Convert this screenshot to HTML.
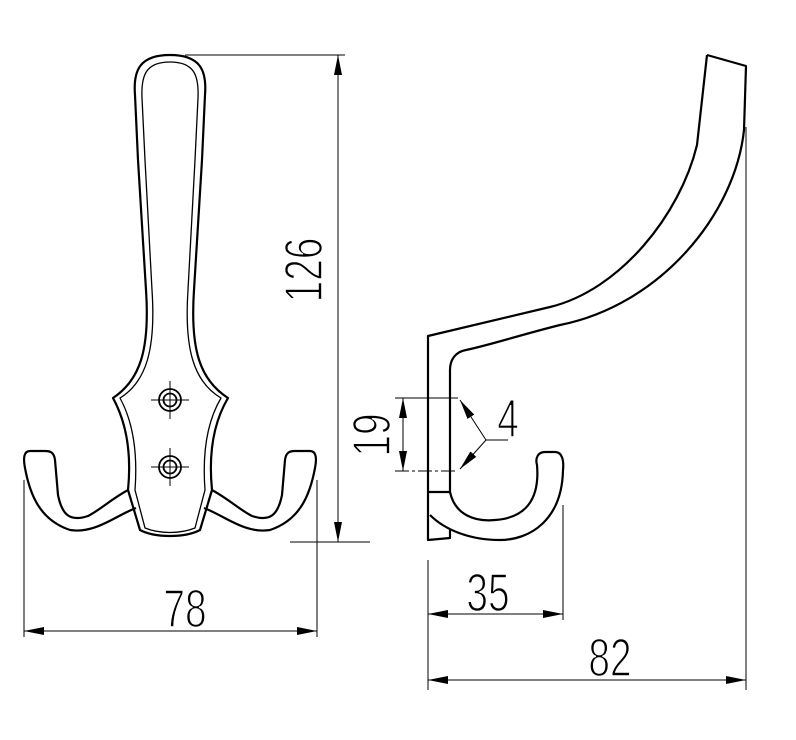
<!DOCTYPE html>
<html><head><meta charset="utf-8"><style>html,body{margin:0;padding:0;background:#fff}svg{display:block}</style></head><body>
<svg width="796" height="740" viewBox="0 0 796 740" xmlns="http://www.w3.org/2000/svg">
<defs>
<marker id="a" viewBox="0 0 20 8" refX="20" refY="4" markerWidth="20" markerHeight="8" markerUnits="userSpaceOnUse" orient="auto-start-reverse"><path d="M0,0 L20,4 L0,8 Z" fill="#000"/></marker>
</defs>
<g fill="none" stroke="#000" stroke-width="2.2" stroke-linejoin="round">
<path d="M170,55 C140,55 133,70 135,95 L138,160 L146,290 C150,350 140,380 113,398 C125,420 132,450 128,490 L140,530 C155,538 185,538 200,530 L212,490 C208,450 215,420 228,398 C200,380 190,350 194,290 L202,160 L205,95 C207,70 200,55 170,55 Z"/>
<path d="M170,62 C146,62 141,75 142,98 L145,160 L152,290 C156,350 146,382 120,398 C132,420 138,450 135,490 L145,528 C160,534 180,534 195,528 L205,490 C202,450 208,420 221,398 C194,382 184,350 188,290 L195,160 L198,98 C199,75 194,62 170,62 Z" stroke-width="1.3"/>
<path d="M128,490 C110,500 100,510 88,516 C70,522 62,515 58,495 L55,460 C54,452 50,451 45,451 L30,451 C24,451 23,458 25,468 C30,495 40,520 70,530 C95,534 115,516 136,508"/>
<path d="M212,490 C230,500 240,510 252,516 C270,522 278,515 282,495 L285,460 C286,452 290,451 295,451 L310,451 C316,451 317,458 315,468 C310,495 300,520 270,530 C245,534 225,516 204,508"/>
</g>
<g fill="none" stroke="#000">
<circle cx="170" cy="400" r="11" stroke-width="1.8"/><circle cx="170" cy="400" r="6.5" stroke-width="1.8"/>
<circle cx="170" cy="467" r="11" stroke-width="1.8"/><circle cx="170" cy="467" r="6.5" stroke-width="1.8"/>
<path d="M151,400 H189 M170,381 V419 M151,467 H189 M170,448 V486" stroke-width="1"/>
</g>
<g fill="none" stroke="#000" stroke-width="2.2" stroke-linejoin="round">
<path d="M707,55 L746,66 L744,130 C735,215 660,305 560,325 C520,335 490,345 466,350 C455,352 450,360 450,370 L450,492 C455,515 475,522 495,520 C525,518 540,500 537,465 C535,458 538,452 545,452 L555,452 C562,452 564,460 563,470 C562,520 530,540 500,540 C470,540 445,530 430,515"/>
<path d="M707,55 L697,145 C680,215 620,290 550,307 L428,336 L428,540 L450,538 L450,530"/>
<path d="M428,492 H450"/>
</g>
<g fill="none" stroke="#000" stroke-width="1">
<path d="M185,55 H345 M290,542 H370 M24,480 V637 M317,480 V637 M428,560 V690 M563,505 V620 M746,127 V690 M395,398 H458"/>
<path d="M395,471 H458" stroke-dasharray="14,3,3,3"/>
<path d="M338,55 V542" marker-start="url(#a)" marker-end="url(#a)"/>
<path d="M24,631 H317" marker-start="url(#a)" marker-end="url(#a)"/>
<path d="M428,614 H563" marker-start="url(#a)" marker-end="url(#a)"/>
<path d="M428,680 H746" marker-start="url(#a)" marker-end="url(#a)"/>
<path d="M403,398 V471" marker-start="url(#a)" marker-end="url(#a)"/>
<path d="M508,440 H486 L460,400" marker-end="url(#a)"/>
<path d="M486,440 L460,469" marker-end="url(#a)"/>
</g>
<g font-family="Liberation Sans, sans-serif" font-size="54" fill="#000" stroke="#fff" stroke-width="1.6">
<text transform="translate(322,270) rotate(-90) scale(0.72,1)" text-anchor="middle">126</text>
<text transform="translate(390,435) rotate(-90) scale(0.72,1)" text-anchor="middle">19</text>
<text transform="translate(185,627) scale(0.72,1)" text-anchor="middle">78</text>
<text transform="translate(488,611) scale(0.72,1)" text-anchor="middle">35</text>
<text transform="translate(610,676) scale(0.72,1)" text-anchor="middle">82</text>
<text transform="translate(508,437) scale(0.72,1)" text-anchor="middle">4</text>
</g>
</svg>
</body></html>
